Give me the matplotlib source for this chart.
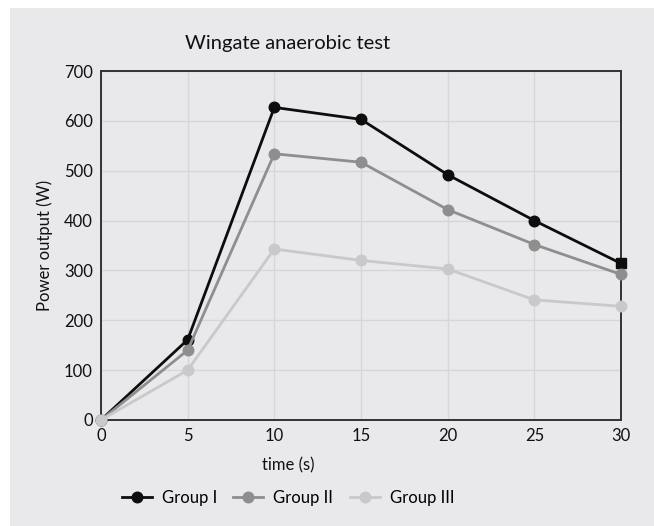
import matplotlib
matplotlib.use("Agg")
import matplotlib.pyplot as plt
from matplotlib.patches import Rectangle
from matplotlib.lines import Line2D

# data
time_s = [0, 5, 10, 15, 20, 25, 30]
group1 = [0, 161, 627, 603, 492, 400, 314]
group2 = [0, 140, 534, 517, 422, 352, 292]
group3 = [0, 100, 343, 320, 303, 241, 228]
labels = ["Group I", "Group II", "Group III"]
colors = ["#0d0d0d", "#8e8e8e", "#c9c9cb"]

plt.rcParams['font.family'] = ['Lato', 'DejaVu Sans']

W, H = 654, 526
fig = plt.figure(figsize=(W / 100, H / 100), dpi=100, facecolor="white")
bg = "#e9e9eb"
fig.patches.append(Rectangle((10 / W, 0), 1 - 10 / W, 1 - 8 / H,
                             transform=fig.transFigure, facecolor=bg,
                             edgecolor="none", zorder=-10))

ax = fig.add_axes([101 / W, 1 - 420 / H, 520 / W, 349 / H])
ax.set_facecolor(bg)

lw, ms = 2.0, 7.6
series = [group1, group2, group3]
for i, (vals, c) in enumerate(zip(series, colors)):
    if i == 0:
        ax.plot(time_s, vals, color=c, lw=lw, marker="o", ms=ms,
                markevery=list(range(len(vals) - 1)), zorder=3 + i, clip_on=False)
        ax.plot(time_s[-1:], vals[-1:], color=c, marker="s", ms=7, ls="none",
                zorder=3 + i, clip_on=False)
    else:
        ax.plot(time_s, vals, color=c, lw=lw, marker="o", ms=ms,
                zorder=3 + i, clip_on=False)

ax.set_xlim(0, 30)
ax.set_ylim(0, 700)
ax.set_xticks(time_s)
ax.set_yticks(range(0, 701, 100))
ax.grid(True, color="#d6d6da", lw=1)
ax.set_axisbelow(True)
ax.tick_params(length=0, labelsize=12, pad=6, colors="#111111")
for s in ax.spines.values():
    s.set_color("#333333")
    s.set_linewidth(1.4)

ax.set_ylabel("Power output (W)", fontsize=12, color="#111111", labelpad=8)

cx = 288 / W
fig.text(cx, 1 - 43 / H, "Wingate anaerobic test", ha="center", va="center",
         fontsize=14.5, color="#111111")
fig.text(cx, 1 - 465 / H, "time (s)", ha="center", va="center",
         fontsize=12, color="#111111")

handles = [Line2D([], [], color=c, lw=lw, marker="o", ms=ms) for c in colors]
fig.legend(handles, labels, loc="center", bbox_to_anchor=(cx, 1 - 498 / H),
           ncol=3, frameon=False, fontsize=12, handlelength=1.8,
           columnspacing=1.0, handletextpad=0.6)

fig.savefig("out.png", dpi=100, facecolor="white")
